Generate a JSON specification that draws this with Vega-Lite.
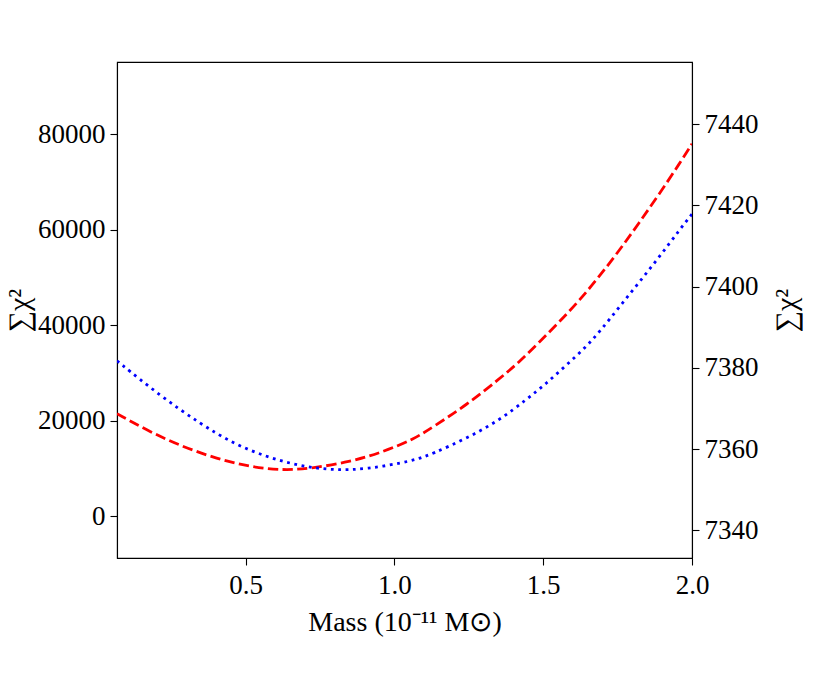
{
  "$schema": "https://vega.github.io/schema/vega-lite/v6.json",
  "autosize": "none",
  "width": 575,
  "height": 496,
  "padding": {"left": 117, "top": 62, "right": 139, "bottom": 117},
  "background": "white",
  "data": {
    "values": [
      {"mass": 0.068, "series": "red", "chi2": 21508},
      {"mass": 0.179, "series": "red", "chi2": 17654},
      {"mass": 0.291, "series": "red", "chi2": 14513},
      {"mass": 0.403, "series": "red", "chi2": 12084},
      {"mass": 0.514, "series": "red", "chi2": 10324},
      {"mass": 0.627, "series": "red", "chi2": 9633},
      {"mass": 0.716, "series": "red", "chi2": 9989},
      {"mass": 0.85, "series": "red", "chi2": 11372},
      {"mass": 0.962, "series": "red", "chi2": 13466},
      {"mass": 1.069, "series": "red", "chi2": 16272},
      {"mass": 1.129, "series": "red", "chi2": 18701},
      {"mass": 1.241, "series": "red", "chi2": 23246},
      {"mass": 1.353, "series": "red", "chi2": 28795},
      {"mass": 1.42, "series": "red", "chi2": 32313},
      {"mass": 1.487, "series": "red", "chi2": 36502},
      {"mass": 1.554, "series": "red", "chi2": 40690},
      {"mass": 1.622, "series": "red", "chi2": 45235},
      {"mass": 1.689, "series": "red", "chi2": 50261},
      {"mass": 1.756, "series": "red", "chi2": 55706},
      {"mass": 1.823, "series": "red", "chi2": 61500},
      {"mass": 1.89, "series": "red", "chi2": 67500},
      {"mass": 1.958, "series": "red", "chi2": 73862},
      {"mass": 2.0, "series": "red", "chi2": 78000},
      {"mass": 0.068, "series": "blue", "chi2": 7381.75},
      {"mass": 0.211, "series": "blue", "chi2": 7373.25},
      {"mass": 0.347, "series": "blue", "chi2": 7366.28},
      {"mass": 0.459, "series": "blue", "chi2": 7361.35},
      {"mass": 0.571, "series": "blue", "chi2": 7358.05},
      {"mass": 0.682, "series": "blue", "chi2": 7355.84},
      {"mass": 0.794, "series": "blue", "chi2": 7354.78},
      {"mass": 0.906, "series": "blue", "chi2": 7355.02},
      {"mass": 1.063, "series": "blue", "chi2": 7357.07},
      {"mass": 1.129, "series": "blue", "chi2": 7358.89},
      {"mass": 1.241, "series": "blue", "chi2": 7362.59},
      {"mass": 1.353, "series": "blue", "chi2": 7367.09},
      {"mass": 1.443, "series": "blue", "chi2": 7372.19},
      {"mass": 1.51, "series": "blue", "chi2": 7376.13},
      {"mass": 1.577, "series": "blue", "chi2": 7380.64},
      {"mass": 1.644, "series": "blue", "chi2": 7385.15},
      {"mass": 1.694, "series": "blue", "chi2": 7389.3},
      {"mass": 1.756, "series": "blue", "chi2": 7395.0},
      {"mass": 1.823, "series": "blue", "chi2": 7401.16},
      {"mass": 1.89, "series": "blue", "chi2": 7407.31},
      {"mass": 1.957, "series": "blue", "chi2": 7413.89},
      {"mass": 2.0, "series": "blue", "chi2": 7417.9}
    ]
  },
  "encoding": {
    "x": {
      "field": "mass",
      "type": "quantitative",
      "scale": {"domain": [0.068, 2.0], "nice": false, "zero": false},
      "axis": {
        "title": "Mass (10⁻¹¹ M⊙)",
        "values": [0.5, 1.0, 1.5, 2.0],
        "format": ".1f",
        "titleBaseline": "alphabetic",
        "titleY": 72,
        "titleFontSize": 28,
        "labelPadding": 7
      }
    }
  },
  "layer": [
    {
      "transform": [{"filter": "datum.series === 'red'"}],
      "mark": {"type": "line", "color": "#ff0000", "strokeWidth": 2.8, "strokeDash": [10.3, 4.4], "interpolate": "basis", "clip": true},
      "encoding": {
        "y": {
          "field": "chi2",
          "type": "quantitative",
          "scale": {"domain": [-8733, 95141], "nice": false, "zero": false},
          "axis": {
            "orient": "left",
            "title": "∑χ²",
            "values": [0, 20000, 40000, 60000, 80000],
            "format": "d",
            "titleAngle": 270,
            "titleBaseline": "alphabetic",
            "titleX": -89,
            "titleY": 248,
            "titleFontSize": 30,
            "labelPadding": 5
          }
        }
      }
    },
    {
      "transform": [{"filter": "datum.series === 'blue'"}],
      "mark": {"type": "line", "color": "#0000ff", "strokeWidth": 2.8, "strokeDash": [2.8, 4.6], "interpolate": "basis", "clip": true},
      "encoding": {
        "y": {
          "field": "chi2",
          "type": "quantitative",
          "scale": {"domain": [7333.18, 7455.34], "nice": false, "zero": false},
          "axis": {
            "orient": "right",
            "title": "∑χ²",
            "values": [7340, 7360, 7380, 7400, 7420, 7440],
            "format": "d",
            "titleAngle": 270,
            "titleBaseline": "alphabetic",
            "titleX": 103,
            "titleY": 248,
            "titleFontSize": 30,
            "labelPadding": 5
          }
        }
      }
    }
  ],
  "resolve": {"scale": {"y": "independent"}},
  "config": {
    "view": {"stroke": "black", "strokeWidth": 1.1},
    "axis": {
      "grid": false,
      "labelFont": "Liberation Serif",
      "labelFontSize": 27,
      "labelColor": "black",
      "titleFont": "Liberation Serif",
      "titleFontSize": 27,
      "titleFontWeight": "normal",
      "titleColor": "black",
      "tickColor": "black",
      "tickSize": 7,
      "tickWidth": 1.1,
      "domainColor": "black",
      "domainWidth": 1.1,
      "labelFlush": false,
      "labelOverlap": false
    }
  }
}
